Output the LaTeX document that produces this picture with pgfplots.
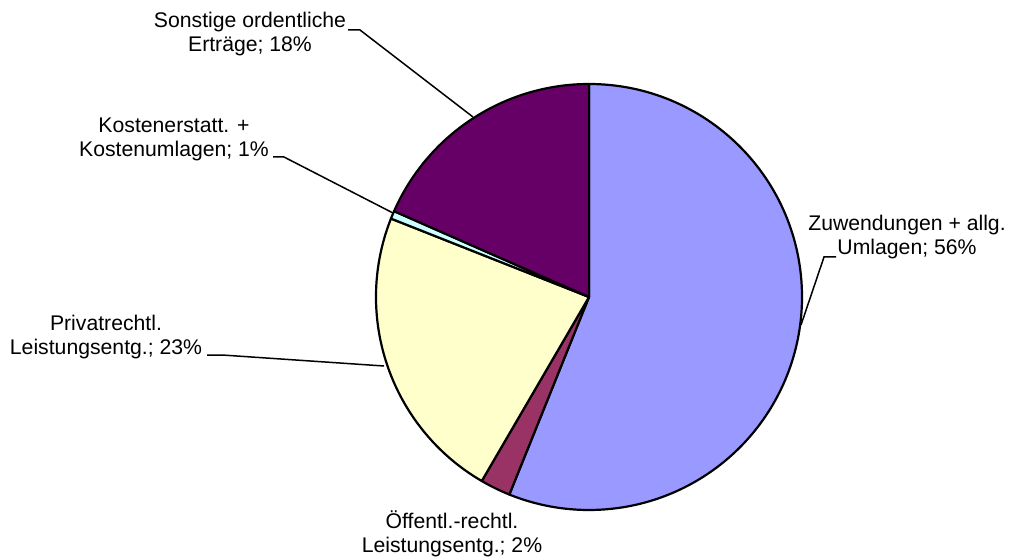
\documentclass[border=0pt]{standalone}
\usepackage{pgfplots}
\pgfplotsset{compat=1.18}
\usepackage{fontspec}
\setmainfont{Liberation Sans}
\definecolor{cZu}{HTML}{9999FF}
\definecolor{cOe}{HTML}{993366}
\definecolor{cPr}{HTML}{FFFFCC}
\definecolor{cKo}{HTML}{CCFFFF}
\definecolor{cSo}{HTML}{660066}
\begin{document}
\begin{tikzpicture}
\useasboundingbox (0,0) rectangle (505.5pt,279pt);
\begin{axis}[hide axis, scale only axis, width=505.5pt, height=279pt,
  xmin=0, xmax=1011, ymin=0, ymax=558, clip=false]
\pgfmathsetmacro\angA{90}
\pgfplotsforeachungrouped \pct/\col in {56.1/cZu, 2.3/cOe, 22.6/cPr, 0.6/cKo, 18.4/cSo}{%
  \pgfmathsetmacro\angB{\angA-3.6*\pct}%
  \edef\cmd{\noexpand\filldraw[fill=\col, draw=black, line width=1.1pt, line join=round]
    (axis cs:589,261) -- ([shift={(\angA:106.5pt)}]axis cs:589,261)
    arc[start angle=\angA, end angle=\angB, radius=106.5pt] -- cycle;}%
  \cmd
  \let\angA\angB
}
\tikzset{lab/.style={align=center, inner sep=0pt, font=\fontsize{10.6}{12}\selectfont}}
\node[lab] at (axis cs:250,524) {Sonstige ordentliche\\Erträge; 18\%};
\node[lab] at (axis cs:174,419) {Kostenerstatt. +\\Kostenumlagen; 1\%};
\node[lab] at (axis cs:106,221) {Privatrechtl.\\Leistungsentg.; 23\%};
\node[lab] at (axis cs:907,321) {Zuwendungen + allg.\\Umlagen; 56\%};
\node[lab] at (axis cs:452,24) {Öffentl.-rechtl.\\Leistungsentg.; 2\%};
\draw[line width=0.75pt] (axis cs:348,528) -- (axis cs:360,528) -- (axis cs:473,441);
\draw[line width=0.75pt] (axis cs:273,401) -- (axis cs:284,401) -- (axis cs:393,345);
\draw[line width=0.75pt] (axis cs:207,203) -- (axis cs:222,203) -- (axis cs:384,192);
\draw[line width=0.75pt] (axis cs:836,301) -- (axis cs:824,301) -- (axis cs:801,233);
\end{axis}
\end{tikzpicture}
\end{document}
